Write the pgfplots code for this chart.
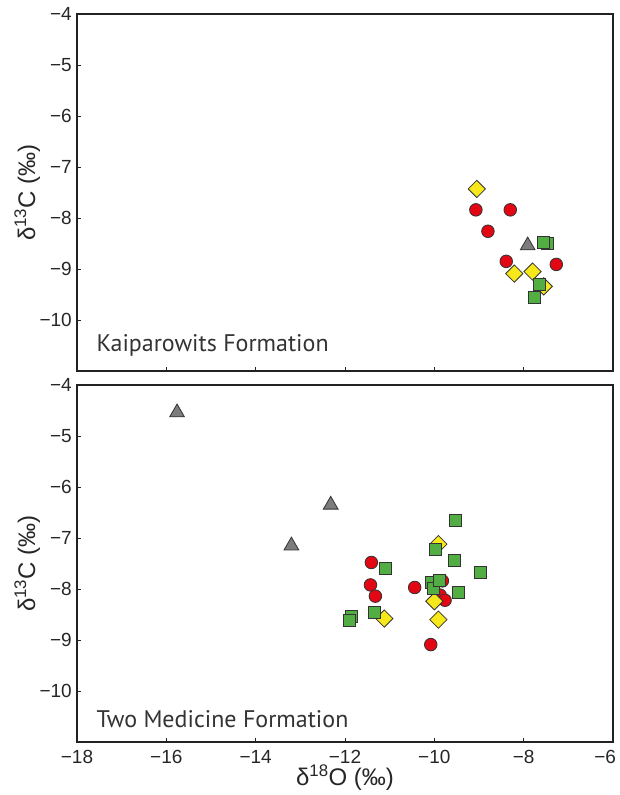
\documentclass[border=0pt]{standalone}
\usepackage{pgfplots}
\pgfplotsset{compat=1.18}
\usepackage{fontspec}
\setmainfont{Liberation Sans}
\newfontfamily\panelfont{PT Sans}

\definecolor{ptred}{HTML}{E30613}
\definecolor{ptyellow}{HTML}{F7E81C}
\definecolor{ptgreen}{HTML}{52AE43}
\definecolor{ptgray}{HTML}{7C7C7E}
\definecolor{edge}{HTML}{333333}
\definecolor{frame}{HTML}{222222}

\pgfplotsset{
  panel/.style={
    scale only axis,
    width=536pt, height=357pt,
    xmin=-18, xmax=-6, ymin=-11, ymax=-4,
    xtick={-18,-16,...,-6},
    xticklabels={−18,−16,−14,−12,−10,−8,\makebox[0pt][r]{−6\kern-3pt}},
    ytick={-10,-9,...,-4},
    yticklabels={−10,−9,−8,−7,−6,−5,−4},
    tick align=inside, tick pos=left,
    major tick length=4pt,
    tick style={line width=0.9pt, color=frame},
    axis line style={line width=2pt, color=frame},
    ticklabel style={font=\fontsize{19}{22}\selectfont, text=black!85},
    yticklabel style={anchor=east, inner sep=0pt, xshift=-5pt},
    xticklabel style={anchor=north, inner sep=0pt, yshift=-8pt},
    ylabel={δ\textsuperscript{13}C (‰)},
    ylabel style={at={(axis description cs:-0.093,0.5)}, anchor=center,
      font=\fontsize{24}{28}\selectfont, text=black!85},
    xlabel style={at={(axis description cs:0.5,-0.1)}, anchor=center,
      font=\fontsize{24}{28}\selectfont, text=black!85},
    clip=false,
  },
  circ/.style={only marks, mark=*, mark size=6.3pt,
    mark options={fill=ptred, draw=edge, line width=0.8pt}},
  diam/.style={only marks, mark=square*, mark size=6.1pt,
    mark options={rotate=45, fill=ptyellow, draw=edge, line width=0.8pt}},
  sqr/.style={only marks, mark=square*, mark size=6pt,
    mark options={fill=ptgreen, draw=edge, line width=0.8pt}},
  tri/.style={only marks, mark=triangle*, mark size=8.5pt,
    mark options={fill=ptgray, draw=edge, line width=0.8pt}},
}

\begin{document}
\begin{tikzpicture}[x=1pt,y=1pt]
% Kaiparowits Formation
\begin{axis}[panel, at={(77pt,-14pt)}, anchor=north west, xticklabels={}]
\addplot[circ] coordinates {
  (-9.07,-7.84) (-8.30,-7.84) (-8.80,-8.26) (-8.39,-8.85) (-7.27,-8.91)
};
\addplot[diam] coordinates {
  (-9.05,-7.43) (-8.21,-9.09) (-7.80,-9.05) (-7.55,-9.34)
};
\addplot[sqr] coordinates {
  (-7.47,-8.50) (-7.55,-8.47) (-7.65,-9.31) (-7.75,-9.56)
};
\addplot[tri] coordinates {
  (-7.91,-8.54)
};
\node[anchor=base west, font=\panelfont\fontsize{24}{28}\selectfont, text=black!80]
  at (rel axis cs:0.030,0.054) {Kaiparowits Formation};
\end{axis}
% Two Medicine Formation
\begin{axis}[panel, at={(77pt,-385pt)}, anchor=north west,
  xlabel={δ\textsuperscript{18}O (‰)}]
\addplot[circ] coordinates {
  (-11.41,-7.48) (-11.43,-7.92) (-11.32,-8.14) (-10.44,-7.97)
  (-9.82,-7.84) (-9.87,-8.12) (-9.76,-8.22) (-10.08,-9.09)
};
\addplot[diam] coordinates {
  (-9.91,-7.12) (-10.00,-8.24) (-9.91,-8.60) (-11.12,-8.58)
};
\addplot[sqr] coordinates {
  (-9.52,-6.65) (-9.97,-7.22) (-9.55,-7.44) (-8.96,-7.67) (-11.09,-7.59)
  (-10.06,-7.88) (-10.02,-7.98) (-9.89,-7.83) (-9.47,-8.07) (-11.34,-8.45)
  (-11.86,-8.53) (-11.90,-8.61)
};
\addplot[tri] coordinates {
  (-15.76,-4.54) (-12.32,-6.35) (-13.20,-7.15)
};
\node[anchor=base west, font=\panelfont\fontsize{24}{28}\selectfont, text=black!80]
  at (rel axis cs:0.030,0.042) {Two Medicine Formation};
\end{axis}
\pgfresetboundingbox
\path (0,0) rectangle (619,-795);
\end{tikzpicture}
\end{document}
